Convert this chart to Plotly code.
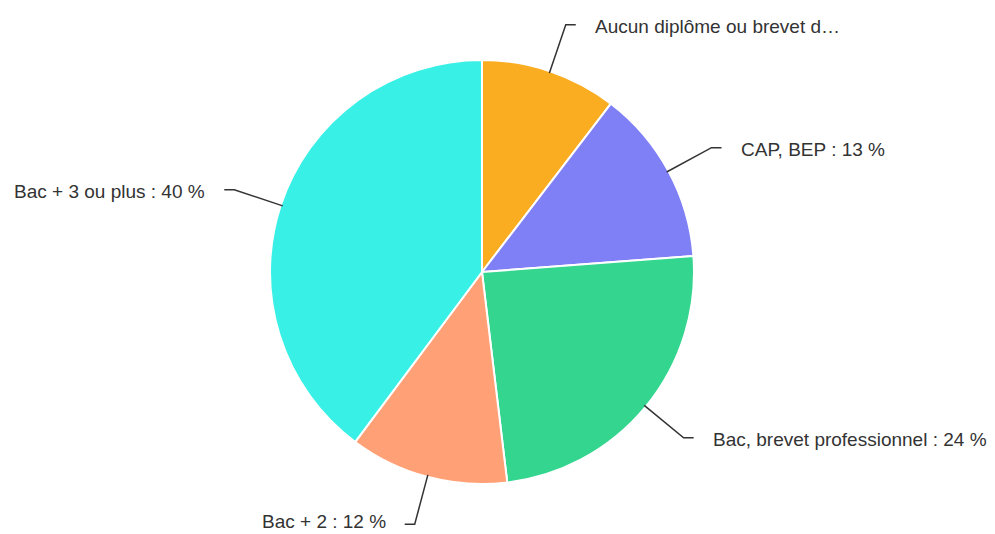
import math
import plotly.graph_objects as go

categories = ["Aucun diplôme ou brevet des collèges", "CAP, BEP", "Bac, brevet professionnel",
              "Bac + 2", "Bac + 3 ou plus"]
display_labels = ["Aucun diplôme ou brevet d…", "CAP, BEP : 13 %", "Bac, brevet professionnel : 24 %",
                  "Bac + 2 : 12 %", "Bac + 3 ou plus : 40 %"]
values = [10.4, 13.4, 24.3, 12.1, 39.8]
colors = ["#FBAD22", "#7F7FF6", "#33D58F", "#FFA076", "#38F0E6"]

W, H = 995, 534
OFF = 8  # page body margin
cx, cy, r = 482, 272, 212

def px(x, y):
    return (x - OFF) / W, 1 - (y - OFF) / H

d0 = px(cx - r, cy + r)
d1 = px(cx + r, cy - r)
fig = go.Figure(go.Pie(
    labels=categories, values=values, sort=False, direction="clockwise", rotation=0,
    marker=dict(colors=colors, line=dict(color="white", width=2)),
    textinfo="none", hoverinfo="label+percent",
    domain=dict(x=[d0[0], d1[0]], y=[d0[1], d1[1]]),
))

total = sum(values)
cum = 0
shapes, annotations = [], []
for lab, v in zip(display_labels, values):
    mid = (cum + v / 2) / total * 2 * math.pi
    cum += v
    s, c = math.sin(mid), math.cos(mid)
    x0, y0 = cx + (r - 2) * s, cy - (r - 2) * c
    x1, y1 = cx + 261 * s, cy - 261 * c
    side = 1 if s >= 0 else -1
    x2 = x1 + side * 10
    p0, p1, p2 = px(x0, y0), px(x1, y1), px(x2, y1)
    shapes.append(dict(type="path", xref="paper", yref="paper",
                       path=f"M {p0[0]},{p0[1]} L {p1[0]},{p1[1]} L {p2[0]},{p2[1]}",
                       line=dict(color="#333333", width=1.5)))
    tx = px(x2 + side * 17, min(y1 + 2, H - 13))
    annotations.append(dict(x=tx[0], y=tx[1], xref="paper", yref="paper", text=lab,
                            showarrow=False, xanchor="left" if side > 0 else "right",
                            yanchor="middle",
                            font=dict(family="Liberation Sans, Arial, sans-serif", size=19, color="#333333")))

fig.update_layout(width=W, height=H, margin=dict(l=0, r=0, t=0, b=0),
                  paper_bgcolor="white", plot_bgcolor="white", showlegend=False,
                  shapes=shapes, annotations=annotations)
fig.write_html("out.html")
